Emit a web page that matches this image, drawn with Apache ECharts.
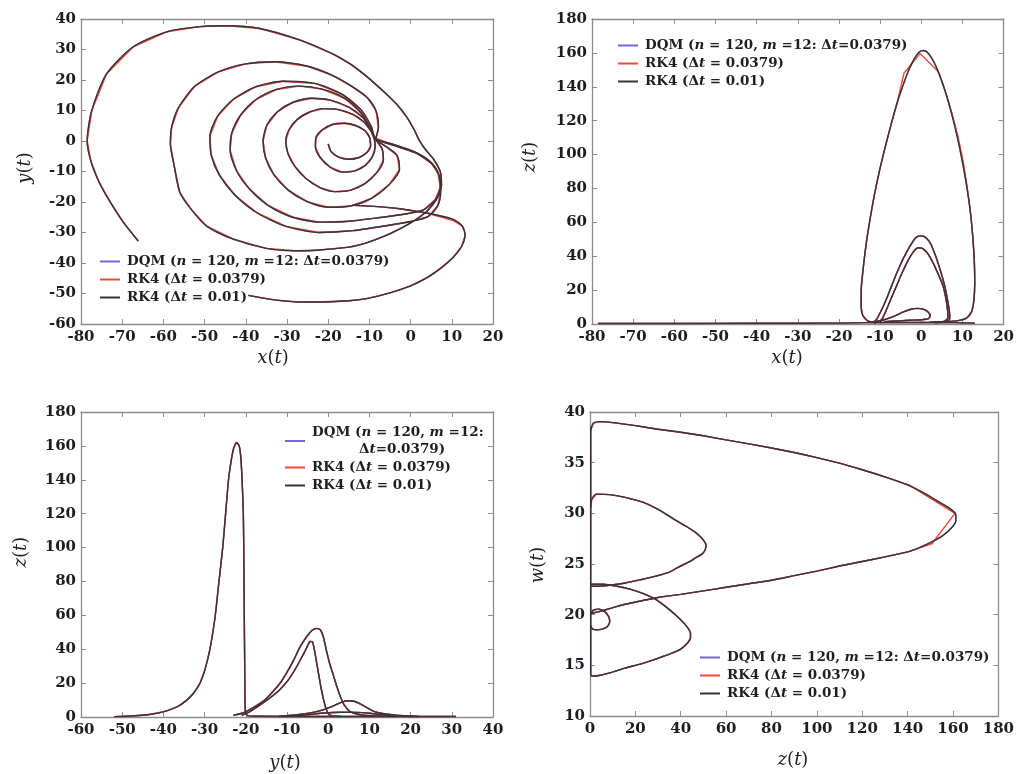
<!DOCTYPE html>
<html><head><meta charset="utf-8">
<script src="https://cdn.jsdelivr.net/npm/echarts@6/dist/echarts.min.js"></script>
<style>html,body{margin:0;padding:0;background:#fff}#c{width:1017px;height:774px}</style>
</head><body><div id="c"></div><script>
// ---------- legend names ----------
const seriesNames = ['DQM (n = 120, m = 12: Δt = 0.0379)', 'RK4 (Δt = 0.0379)', 'RK4 (Δt = 0.01)'];

// ---------- panel 1: x(t) vs y(t) ----------
const xyMain = [[-20,-1],[-19.3,-3.5],[-17.5,-5.3],[-15,-6],[-12.5,-5.4],[-10.6,-3.8],[-9.7,-1.5],[-9.9,1],[-11,3.3],[-13.2,5],[-16,5.8],[-19,5.4],[-21.5,3.6],[-23,1],[-23.1,-2],[-21.9,-5.5],[-19.5,-8.6],[-16.5,-10.2],[-13.5,-9.8],[-11,-8],[-9.3,-5.2],[-8.6,-2],[-8.8,0.6],
[-9.6,3.2],[-11.3,6.2],[-14,8.7],[-17.5,10.3],[-21,10.6],[-24.5,9.5],[-27.5,7.1],[-29.5,3.7],[-30.3,0],[-29.8,-4],[-28.1,-8.3],[-25.4,-12.3],[-22,-15.3],[-18.5,-16.6],[-14.5,-16.1],[-11,-13.9],[-8.1,-10.2],[-6.6,-6.2],[-6.9,-2.6],[-8.5,0.6],
[-9.6,3.6],[-11.5,7.6],[-15,11.1],[-19.5,13.4],[-24,14],[-28.5,12.7],[-32.3,9.6],[-34.9,5.1],[-35.8,0],[-35.2,-5.5],[-33.2,-11],[-29.7,-16.1],[-25.1,-19.9],[-20,-21.7],[-14.5,-21.3],[-9.5,-18.8],[-5.2,-14.3],[-2.7,-9.3],[-3.3,-4.7],[-6.2,-1.6],[-8.7,0.7],
[-9.8,4.2],[-12,9.2],[-16,14],[-21.5,17],[-27,18],[-32.5,16.9],[-37.5,13.6],[-41.2,8.6],[-43.4,2.6],[-43.8,-3],[-42.3,-9.6],[-39.2,-15.6],[-34.7,-21],[-28.6,-25],[-22,-26.6],[-15,-26.3],[-8,-25.2],[-2,-24.1],[3,-22.7],[6,-19.2],[7.2,-15.2],[6.6,-10.2],[4.6,-6.6],[1,-3.6],[-4,-1.2],[-8.6,0.8],
[-9.5,4.6],[-12,10.2],[-16.5,15.2],[-23,18.8],[-31,19.6],[-37.5,17.8],[-43,13.7],[-46.8,8.2],[-48.7,1.6],[-48.4,-4.6],[-46.4,-11.2],[-42.6,-17.8],[-37.2,-23.6],[-30.2,-28],[-22.2,-30],[-14,-29.4],[-6,-27.8],[0,-26.4],[4.2,-24.8],[6.6,-21.2],[7.3,-16.2],[6.9,-11.2],[5.1,-7.4],[1.6,-4.1],[-3.5,-1.7],[-8.4,0.9],
[-7.8,4.4],[-8.4,9.9],[-10.5,14.2],[-13.9,17.6],[-19,21.5],[-25,24.5],[-33,26],[-40,25.3],[-46.8,22.6],[-52.5,17.8],[-56.3,11],[-58,4.5],[-58.3,-1],[-57.4,-8],[-56,-16.9],[-53.2,-22.5],[-49.5,-27.9],[-43,-32.2],[-35,-35.2],[-28,-36],[-22.8,-35.8],[-15,-34.8],[-10.7,-33.4],[-6.5,-31.3],[-2.6,-28.8],[1,-26],[3.9,-23.1],[6.2,-19.3],[7.5,-14.5],[7.2,-10],[5.6,-6],[3.6,-2.8],[2.1,0.2],
[0.9,3.6],[-0.8,7.6],[-3.2,11.8],[-6.6,16.3],[-10.7,21.2],[-14.5,25.1],[-18.8,28.5],[-26.8,33.1],[-36.6,36.9],[-44.6,37.8],[-51.1,37.5],[-59.2,35.8],[-67.3,30.9],[-73.8,22],[-77.4,9.9],[-78.5,0],[-77.6,-6.6],[-75.6,-13.5],[-73,-19.8],[-69.8,-26.5],[-66.1,-32.8]];
const xySpur = [[-39.4,-50.6],[-33,-52.1],[-27,-52.8],[-22.8,-52.8],[-15,-52.4],[-10.7,-51.7],[-5,-49.8],[0,-47.5],[4,-44.8],[7.5,-41.5],[10.3,-38.2],[12.4,-34.5],[13.2,-30.8],[12.6,-28],[10.8,-26],[8.6,-25],[3.9,-23.6],[-2.6,-22.2],[-8,-21.5],[-13.9,-21.1]];
const xySpurRed = [[-39.4,-50.6],[-33,-52.1],[-27,-52.8],[-22.8,-52.8],[-15,-52.4],[-10.7,-51.7],[-5,-49.8],[0,-47.5],[4,-44.8],[7.5,-41.5],[10.3,-38.2],[12.4,-34.5],[13.3,-30.6],[12.5,-27.8],[10.5,-26.2],[8.2,-25.3],[3.9,-23.6],[-2.6,-22.2],[-8,-21.5],[-13.9,-21.1]];

// ---------- panel 2: x(t) vs z(t) ----------
const xzFlat = [[-78.5,0.3],[-60,0.3],[-40,0.4],[-20,0.5],[-14,0.8],[-8,0.9],[0,0.9],[8,0.8],[13,0.5]];
const xzSmall = [[-12,1],[-9,2.5],[-6.5,4.6],[-4.5,7],[-2.5,8.7],[-1,9.2],[0.5,8.8],[1.6,7.2],[2.2,5],[1.8,3.2],[0,2.5],[-3,2.2],[-6,1.8],[-9,1.4]];
const xzLoop45 = [[-10,1.2],[-9.6,2.2],[-8.7,7],[-7.5,14],[-6,22.5],[-4.6,30.5],[-3.1,38],[-1.8,43],[-0.8,45],[0.3,44.6],[1.6,41.5],[3,35.5],[4.3,28.5],[5.3,22.5],[6,15],[6.4,8],[6.5,3.5],[5.5,1.5],[3,0.9]];
const xzLoop52 = [[-11.5,1.2],[-10.8,2.9],[-9.5,9],[-8.4,15],[-7.2,22.5],[-5.8,31],[-4.2,39.5],[-2.6,46.5],[-1.4,50.8],[-0.4,52],[0.8,51.6],[2.1,48.2],[3.3,41.5],[4.6,32],[5.7,22.5],[6.4,14],[6.9,6],[6.9,2.9],[6,1.3],[3.5,0.9]];
const xzBig = [[-11,0.6],[-13,1.8],[-14.2,5],[-14.6,10],[-14.6,20],[-14.1,33],[-13.4,47],[-12.5,61],[-11.4,76],[-10.1,91],[-8.7,105],[-7.3,118],[-5.8,131],[-4.4,141],[-3,150],[-1.7,156.5],[-0.5,160.5],[0.6,161.4],[1.8,159.5],[3.2,154],[4.6,146],[6,136],[7.4,124],[8.7,111],[9.9,97],[11,82],[11.9,67],[12.5,52],[12.9,37],[13,24],[12.8,14],[12.2,7],[11,3.5],[9,2],[6,1.4],[2,1]];
const xzBigRed = [[-11,0.6],[-13,1.8],[-14.2,5],[-14.6,10],[-14.6,20],[-14.1,33],[-13.4,47],[-12.5,61],[-11.4,76],[-10.1,91],[-8.7,105],[-7.3,118],[-5.8,131],[-4.2,148],[-0.3,159.6],[4.1,149],[6,136],[7.5,124],[8.9,111],[10.1,97],[11.1,82],[11.9,67],[12.5,52],[12.9,37],[13,24],[12.8,14],[12.2,7],[11,3.5],[9,2],[6,1.4],[2,1]];

// ---------- panel 3: y(t) vs z(t) ----------
const yzBig = [[-52,0.2],[-47,0.7],[-43,1.6],[-39.2,3.6],[-36.5,6.2],[-34.4,9.8],[-32.7,14],[-31.1,20],[-29.9,28],[-28.7,40],[-27.5,58],[-26.6,78],[-25.6,100],[-24.9,120],[-24.2,140],[-23.5,152],[-22.9,159],[-22.2,162],[-21.6,160],[-21.2,153],[-20.9,140],[-20.6,120],[-20.5,100],[-20.4,70],[-20.3,40],[-20.2,12],[-20.1,3],[-19.6,0.8],[-17,0.4]];
const yzBase = [[-17,0.4],[-5,0.3],[10,0.3],[20,0.3],[31,0.3]];
const yzHump52 = [[-23,1],[-20.5,2.5],[-18.2,5.5],[-15.5,9.8],[-13.3,15.3],[-11.5,20.5],[-10.1,26],[-8.5,33],[-6.8,41.5],[-5.2,47.5],[-3.9,51.2],[-2.8,52.3],[-1.9,51.5],[-1.2,47.5],[-0.5,40],[0.3,32],[1.2,25],[2.1,18],[2.9,12.4],[3.9,7],[5.3,3.2],[7.5,1.5],[10,0.8],[14,0.4]];
const yzHump45 = [[-21,1],[-19,3.2],[-16.6,7],[-14,11.5],[-11.7,16.2],[-9.8,21.5],[-8.3,27],[-6.8,33.5],[-5.4,40],[-4.4,44.6],[-3.8,44.3],[-3.3,39],[-2.8,32],[-2.3,25],[-1.8,18],[-1.2,11],[-0.6,5.5],[0,2],[1,0.7],[3,0.3]];
const yzHumpSmall = [[-12,0.4],[-8,1.2],[-4,2.6],[-1,4.4],[1.5,6.8],[3.3,8.8],[4.8,9.6],[6.3,9.3],[8,7.5],[9.6,5.2],[11.2,3.2],[13.5,1.9],[16.5,1],[20.7,0.4]];
const yzHumpLow = [[-8,0.5],[-4,1.6],[-1,2.4],[3,2.8],[7,2.7],[10,2.2],[13,1.3],[17,0.6],[22,0.3]];

// ---------- panel 4: z(t) vs w(t) ----------
const zwBig = [[0.3,38.2],[1.5,38.9],[4.4,39.05],[10,38.95],[20,38.65],[30,38.3],[40,38],[50,37.65],[60,37.25],[70,36.85],[80,36.45],[90,36],[100,35.5],[110,34.95],[120,34.3],[130,33.6],[140,32.8],[148,31.9],[154,31.1],[158.5,30.5],[161.2,29.9],[161.3,29.3],[159.5,28.6],[155.5,27.8],[150,27.1],[145,26.6],[140,26.2],[130,25.7],[120,25.25],[110,24.8],[100,24.3],[90,23.85],[80,23.4],[70,23.05],[60,22.7],[50,22.35],[40,22],[30,21.7],[23.3,21.4],[15,21],[8.7,20.6],[4,20.3],[1,20.15],[0.3,20.1]];
const zwBigRed = [[0.3,38.2],[1.5,38.9],[4.4,39.05],[10,38.95],[20,38.65],[30,38.3],[40,38],[50,37.65],[60,37.25],[70,36.85],[80,36.45],[90,36],[100,35.5],[110,34.95],[120,34.3],[130,33.6],[140.5,32.8],[160.9,30],[150.7,27],[140,26.2],[130,25.7],[120,25.25],[110,24.8],[100,24.3],[90,23.85],[80,23.4],[70,23.05],[60,22.7],[50,22.35],[40,22],[30,21.7],[23.3,21.4],[15,21],[8.7,20.6],[4,20.3],[1,20.15],[0.3,20.1]];
const zwMid = [[0.3,30.6],[0.8,31.4],[2.9,31.9],[8.7,31.85],[15,31.6],[23.3,31.1],[30,30.4],[37.9,29.3],[42.5,28.7],[46.6,28.1],[49.5,27.5],[51.1,26.9],[50.8,26.4],[49.5,26],[46.5,25.6],[43.7,25.2],[39,24.7],[35,24.2],[29,23.8],[23.3,23.5],[15,23.1],[8.7,22.9],[3,22.8],[0.3,22.8]];
const zwLow = [[0.3,23],[5.8,23],[12,22.8],[18,22.5],[23.3,22.1],[29,21.5],[35,20.5],[39.5,19.6],[42.8,18.8],[44.3,18.2],[44.3,17.7],[43,17.2],[40,16.6],[35,16.1],[30,15.7],[23.3,15.2],[15,14.7],[8.7,14.25],[4,14],[1.5,13.95],[0.3,14]];
const zwSmall = [[0.3,20],[1.5,20.45],[4,20.55],[6.5,20.3],[8.3,19.8],[8.7,19.3],[7.8,18.85],[5.8,18.6],[3,18.5],[1,18.6],[0.3,18.9]];
const zwEdge = [[0.3,14],[0.3,20],[0.3,23],[0.3,31],[0.3,38.5]];

// ---------- axes ranges [min, max, interval] ----------
const xRanges = [[-80,20,10],[-80,20,10],[-60,40,10],[0,180,20]];
const yRanges = [[-60,40,10],[0,180,20],[0,180,20],[10,40,5]];

// segments per panel, per method (blue DQM, red RK4 coarse, black RK4 fine)
const panelData = [
  { blue:[xyMain, xySpur], red:[xyMain, xySpurRed], black:[xyMain, xySpur] },
  { blue:[xzFlat, xzSmall, xzLoop45, xzLoop52, xzBig], red:[xzFlat, xzSmall, xzLoop45, xzLoop52, xzBigRed], black:[xzFlat, xzSmall, xzLoop45, xzLoop52, xzBig] },
  { blue:[yzBig, yzBase, yzHump52, yzHump45, yzHumpSmall, yzHumpLow], red:[yzBig, yzBase, yzHump52, yzHump45, yzHumpSmall, yzHumpLow], black:[yzBig, yzBase, yzHump52, yzHump45, yzHumpSmall, yzHumpLow] },
  { blue:[zwEdge, zwBig, zwMid, zwLow, zwSmall], red:[zwEdge, zwBigRed, zwMid, zwLow, zwSmall], black:[zwEdge, zwBig, zwMid, zwLow, zwSmall] }
];

const FONT = '"DejaVu Serif", "Liberation Serif", serif';
const FRAME = '#8c8c8c';
const COLORS = { blue:'#7466d4', red:'#ee4a36', black:'#3b3335' };
const NAMEIDX = { blue:0, red:1, black:2 };

const grids = [
  {left:81, top:19, width:412, height:305},
  {left:592, top:19, width:414, height:305},
  {left:81, top:412, width:412, height:305},
  {left:590, top:412, width:412, height:304}
];

const xAxes = [], yAxes = [];
grids.forEach((g, i) => {
  const xr = xRanges[i], yr = yRanges[i];
  const base = (pos, show) => ({
    gridIndex:i, type:'value', position:pos,
    axisLine:{show:true, onZero:false, lineStyle:{color:FRAME, width:1.3}},
    axisTick:{show:true, inside:true, length:5, lineStyle:{color:FRAME, width:1}},
    splitLine:{show:false},
    axisLabel:{show:show, margin:6, fontFamily:FONT, fontSize:15, fontWeight:'bold', color:'#1e1e1e'}
  });
  xAxes.push(Object.assign(base('bottom', true), {min:xr[0], max:xr[1], interval:xr[2]}));
  xAxes.push(Object.assign(base('top', false), {min:xr[0], max:xr[1], interval:xr[2]}));
  const yl = base('left', true); yl.axisLabel.margin = 5;
  yAxes.push(Object.assign(yl, {min:yr[0], max:yr[1], interval:yr[2]}));
  yAxes.push(Object.assign(base('right', false), {min:yr[0], max:yr[1], interval:yr[2]}));
});

const series = [];
panelData.forEach((p, i) => {
  ['blue','red','black'].forEach(m => {
    p[m].forEach(seg => {
      series.push({
        name: seriesNames[NAMEIDX[m]], type:'line', xAxisIndex:2*i, yAxisIndex:2*i,
        data: seg, symbol:'none', showSymbol:false, smooth: m === 'red' ? false : 0.25,
        lineStyle:{color:COLORS[m], width:1.4},
        itemStyle:{color:COLORS[m]}, silent:true, animation:false
      });
    });
  });
});

const legendRich = {
  i:{fontFamily:FONT, fontStyle:'italic', fontWeight:'bold', fontSize:13.5, color:'#1e1e1e'}
};
const legendLabel = {};
legendLabel[seriesNames[0]] = 'DQM ({i|n} = 120, {i|m} =12: Δ{i|t}=0.0379)';
legendLabel[seriesNames[1]] = 'RK4 (Δ{i|t} = 0.0379)';
legendLabel[seriesNames[2]] = 'RK4 (Δ{i|t} = 0.01)';
const legendLabelWrap = Object.assign({}, legendLabel);
legendLabelWrap[seriesNames[0]] = 'DQM ({i|n} = 120, {i|m} =12:\n          Δ{i|t}=0.0379)';

function mkLegend(left, top, wrap) {
  return {
    data: seriesNames, orient:'vertical', left:left, top:top, padding:0,
    itemGap:1, itemWidth:20, itemHeight:2, icon:'rect', selectedMode:false,
    formatter: n => (wrap ? legendLabelWrap : legendLabel)[n],
    textStyle:{fontFamily:FONT, fontSize:13.5, fontWeight:'bold', color:'#1e1e1e', lineHeight:17, padding:[0,0,0,2], rich:legendRich}
  };
}

function axisTitle(x, y, v, rot) {
  return {
    type:'text', x:x, y:y, rotation: rot ? Math.PI/2 : 0,
    style:{
      text:'{i|' + v + '}({i|t})', fontFamily:FONT, fontSize:18, fill:'#222',
      align:'center', verticalAlign:'middle',
      rich:{ i:{fontFamily:FONT, fontStyle:'italic', fontSize:18, fill:'#222'} }
    }
  };
}

const chart = echarts.init(document.getElementById('c'), null, {renderer:'canvas'});
chart.setOption({
  animation:false,
  backgroundColor:'#ffffff',
  grid: grids,
  xAxis: xAxes,
  yAxis: yAxes,
  legend: [mkLegend(100, 253, false), mkLegend(618, 37, false), mkLegend(285, 424, true), mkLegend(700, 649, false)],
  graphic: [
    axisTitle(273, 358, 'x', false), axisTitle(25, 168, 'y', true),
    axisTitle(787, 358, 'x', false), axisTitle(530, 157, 'z', true),
    axisTitle(285, 763, 'y', false), axisTitle(21, 552, 'z', true),
    axisTitle(793, 760, 'z', false), axisTitle(538, 565, 'w', true)
  ],
  series: series
});
</script></body></html>
